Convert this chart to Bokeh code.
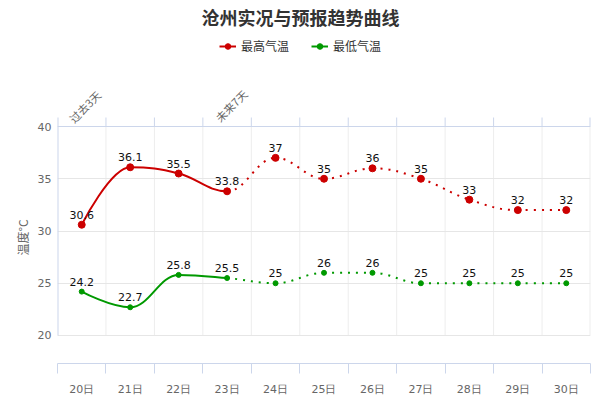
import math
from bokeh.plotting import figure
from bokeh.models import (Range1d, FixedTicker, Label, LabelSet, Title,
                          ColumnDataSource, Legend, LegendItem)
from bokeh.core.properties import value
from bokeh.embed import file_html
from bokeh.resources import INLINE

# ---------------- data ----------------
days = ["20日", "21日", "22日", "23日", "24日", "25日", "26日", "27日", "28日", "29日", "30日"]
high = [30.6, 36.1, 35.5, 33.8, 37, 35, 36, 35, 33, 32, 32]
low = [24.2, 22.7, 25.8, 25.5, 25, 26, 26, 25, 25, 25, 25]
n_observed = 4          # first 4 points are observations (solid line)
y_ticks = [20, 25, 30, 35, 40]
title_text = "沧州实况与预报趋势曲线"
series_names = ["最高气温", "最低气温"]
band_texts = ["过去3天", "未来7天"]
y_label = "温度°C"

# ---------------- layout / styles ----------------
W, H = 600, 400
FRAME_LEFT, FRAME_RIGHT, FRAME_BOTTOM = 57, 590, 363
Y_BOT, Y_TOP = 17.32, 52.06          # frame spans from canvas top down to the x axis
PX_PER_UNIT = FRAME_BOTTOM / (Y_TOP - Y_BOT)
TICK_LEN = 9 / PX_PER_UNIT

RED = "#CC0000"
GREEN = "#009900"
AXIS_BLUE = "#CCD6EB"
GRID = "#E6E6E6"
VGRID = "#EDEDED"
TICK_GRAY = "#666666"
CJK = "Noto Sans CJK SC"
LAT = "DejaVu Sans"

xs = list(range(len(days)))
bounds = [i - 0.5 for i in range(len(days) + 1)]
y_lo, y_hi = y_ticks[0], y_ticks[-1]


def spline_segments(xv, yv, smoothing=1.5):
    """Highcharts-style spline control points -> bezier segment columns."""
    n = len(xv)
    denom = smoothing + 1
    left = [(xv[i], yv[i]) for i in range(n)]
    right = [(xv[i], yv[i]) for i in range(n)]
    for i in range(1, n - 1):
        px, py = xv[i], yv[i]
        lx, ly = xv[i - 1], yv[i - 1]
        nx, ny = xv[i + 1], yv[i + 1]
        lcx = (smoothing * px + lx) / denom
        lcy = (smoothing * py + ly) / denom
        rcx = (smoothing * px + nx) / denom
        rcy = (smoothing * py + ny) / denom
        if rcx != lcx:
            corr = ((rcy - lcy) * (rcx - px)) / (rcx - lcx) + py - rcy
            lcy += corr
            rcy += corr
        if lcy > ly and lcy > py:
            lcy = max(ly, py); rcy = 2 * py - lcy
        elif lcy < ly and lcy < py:
            lcy = min(ly, py); rcy = 2 * py - lcy
        if rcy > ny and rcy > py:
            rcy = max(ny, py); lcy = 2 * py - rcy
        elif rcy < ny and rcy < py:
            rcy = min(ny, py); lcy = 2 * py - rcy
        left[i] = (lcx, lcy)
        right[i] = (rcx, rcy)
    cols = dict(x0=[], y0=[], x1=[], y1=[], cx0=[], cy0=[], cx1=[], cy1=[])
    for i in range(n - 1):
        cols["x0"].append(xv[i]); cols["y0"].append(yv[i])
        cols["x1"].append(xv[i + 1]); cols["y1"].append(yv[i + 1])
        cols["cx0"].append(right[i][0]); cols["cy0"].append(right[i][1])
        cols["cx1"].append(left[i + 1][0]); cols["cy1"].append(left[i + 1][1])
    return cols


def split(cols, k):
    return ({key: v[:k] for key, v in cols.items()},
            {key: v[k:] for key, v in cols.items()})


p = figure(width=W, height=H, output_backend="svg", toolbar_location=None, title=None,
           x_range=Range1d(bounds[0], bounds[-1]), y_range=Range1d(Y_BOT, Y_TOP),
           min_border_left=FRAME_LEFT, min_border_right=W - FRAME_RIGHT,
           min_border_top=0, min_border_bottom=H - FRAME_BOTTOM)
p.outline_line_color = None
p.background_fill_color = "white"
p.border_fill_color = "white"

# bottom axis: labels at category centers, ticks at boundaries
xa = p.xaxis[0]
xa.ticker = FixedTicker(ticks=xs, minor_ticks=bounds)
xa.major_label_overrides = {i: d for i, d in enumerate(days)}
xa.major_tick_line_color = None
xa.major_tick_in = 0
xa.major_tick_out = 0
xa.minor_tick_in = 0
xa.minor_tick_out = 10
xa.minor_tick_line_color = AXIS_BLUE
xa.axis_line_color = AXIS_BLUE
xa.major_label_standoff = 9
xa.major_label_text_font = LAT
xa.major_label_text_font_size = "11px"
xa.major_label_text_color = TICK_GRAY

# left axis
ya = p.yaxis[0]
ya.ticker = FixedTicker(ticks=y_ticks)
ya.axis_line_color = None
ya.major_tick_line_color = None
ya.minor_tick_line_color = None
ya.major_tick_in = 0
ya.major_tick_out = 0
ya.minor_tick_in = 0
ya.minor_tick_out = 0
ya.major_label_standoff = 6
ya.major_label_text_font = LAT
ya.major_label_text_font_size = "11px"
ya.major_label_text_color = TICK_GRAY

# y-axis title (vertical, in the left panel)
p.add_layout(Title(text=y_label, align="left", offset=108, standoff=8,
                   text_font=CJK, text_font_size="12px", text_font_style="normal",
                   text_color=TICK_GRAY), "left")

# grids
p.xgrid.visible = False
p.ygrid.ticker = FixedTicker(ticks=y_ticks)
p.ygrid.grid_line_color = GRID

# vertical grid lines between categories (only over the 20..40 range)
inner = bounds[1:-1]
p.segment(x0=inner, y0=[y_lo] * len(inner), x1=inner, y1=[y_hi] * len(inner),
          line_color=VGRID, line_width=1, level="underlay")
p.segment(x0=[bounds[-1]], y0=[y_lo], x1=[bounds[-1]], y1=[y_hi],
          line_color=VGRID, line_width=2, level="underlay")
# top axis line + upward ticks
p.segment(x0=[bounds[0]], y0=[y_hi], x1=[bounds[-1]], y1=[y_hi], line_color=AXIS_BLUE, line_width=1)
p.segment(x0=inner, y0=[y_hi] * len(inner), x1=inner, y1=[y_hi + TICK_LEN] * len(inner),
          line_color=AXIS_BLUE, line_width=1)
p.segment(x0=[bounds[-1]], y0=[y_hi], x1=[bounds[-1]], y1=[y_hi + TICK_LEN],
          line_color=AXIS_BLUE, line_width=2)
# left axis line (incl. its top tick)
p.segment(x0=[bounds[0]], y0=[y_lo], x1=[bounds[0]], y1=[y_hi + TICK_LEN],
          line_color=AXIS_BLUE, line_width=2)

legend_items = []
for vals, color, msize, name in [(high, RED, 7, series_names[0]), (low, GREEN, 5, series_names[1])]:
    cols = spline_segments(xs, vals)
    solid, dotted = split(cols, n_observed - 1)
    solid_r = p.bezier(source=ColumnDataSource(solid), x0="x0", y0="y0", x1="x1", y1="y1",
                       cx0="cx0", cy0="cy0", cx1="cx1", cy1="cy1", line_color=color, line_width=2)
    p.bezier(source=ColumnDataSource(dotted), x0="x0", y0="y0", x1="x1", y1="y1",
             cx0="cx0", cy0="cy0", cx1="cx1", cy1="cy1", line_color=color, line_width=2,
             line_dash="2 6")
    pts = ColumnDataSource(dict(x=xs, y=vals, t=[f"{v:g}" for v in vals]))
    sc = p.scatter(x="x", y="y", source=pts, size=msize, marker="circle",
                   fill_color=color, line_color=color)
    p.add_layout(LabelSet(x="x", y="y", text="t", source=pts, text_align="center",
                          text_baseline="alphabetic", y_offset=6, text_font=value(LAT),
                          text_font_size="11px", text_color="#111111"))
    legend_items.append(LegendItem(label=name, renderers=[solid_r, sc]))

legend = Legend(items=legend_items, orientation="horizontal", location=(162, 309),
                border_line_color=None, background_fill_alpha=0, padding=0, margin=0,
                spacing=22, label_standoff=5, glyph_width=17, glyph_height=14,
                label_height=14, label_text_font=CJK, label_text_font_size="12px",
                label_text_color="#333333")
p.add_layout(legend)

# chart title (inside the tall frame, centred on the canvas)
p.add_layout(Label(x=(bounds[0] + bounds[-1]) / 2, y=y_hi,
                   x_offset=W / 2 - (FRAME_LEFT + FRAME_RIGHT) / 2, y_offset=110,
                   text=title_text, text_align="center", text_baseline="middle",
                   text_font=CJK, text_font_style="bold", text_font_size="18px",
                   text_color="#333333"))

# period annotations
for idx, txt, dx, dy in [(0, band_texts[0], 3, 20), (n_observed - 1, band_texts[1], 4, 21)]:
    p.add_layout(Label(x=idx, y=y_hi, x_offset=dx, y_offset=dy, text=txt,
                       angle=math.pi / 4, text_align="center", text_baseline="middle",
                       text_font=CJK, text_font_size="11px", text_color=TICK_GRAY))

open("out.html", "w").write(file_html(p, INLINE))
